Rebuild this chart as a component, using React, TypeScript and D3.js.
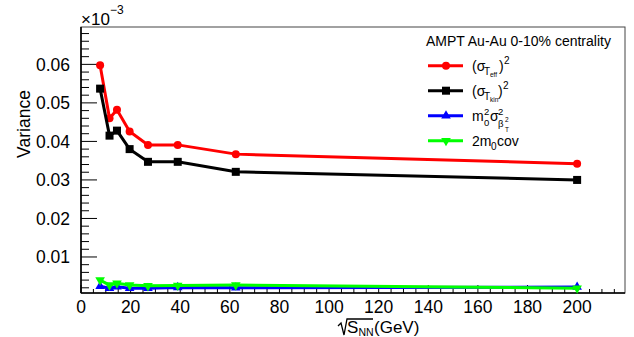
import React from "react";
import * as d3 from "d3";

// sqrt(s_NN) in GeV
const energies = [7.7, 11.5, 14.5, 19.6, 27, 39, 62.4, 200];
const sigmaTeff = [0.0598, 0.046, 0.0482, 0.0426, 0.0391, 0.0391, 0.0367, 0.0342];
const sigmaTkin = [0.0537, 0.0415, 0.0428, 0.038, 0.0347, 0.0347, 0.0321, 0.03];
const m0SigmaBeta = [0.0024, 0.0019, 0.0023, 0.0019, 0.0019, 0.0021, 0.002, 0.0022];
const twoM0Cov = [0.004, 0.0027, 0.0032, 0.0027, 0.0025, 0.0026, 0.0027, 0.0019];

const xTickLabels = ["0", "20", "40", "60", "80", "100", "120", "140", "160", "180", "200"];
const yTickLabels = ["0.01", "0.02", "0.03", "0.04", "0.05", "0.06"];

const W = 634;
const H = 337;
const frame = { left: 81, right: 625, top: 27, bottom: 293 };
const font = "'Liberation Sans', Arial, Helvetica, sans-serif";

type Series = { name: string; values: number[]; color: string; marker: string };

const series: Series[] = [
  { name: "teff", values: sigmaTeff, color: "#ff0000", marker: "circle" },
  { name: "tkin", values: sigmaTkin, color: "#000000", marker: "square" },
  { name: "beta", values: m0SigmaBeta, color: "#0000ff", marker: "up" },
  { name: "cov", values: twoM0Cov, color: "#00ff00", marker: "down" },
];

const Marker: React.FC<{ kind: string; x: number; y: number; color: string }> = ({ kind, x, y, color }) => {
  if (kind === "circle") return <circle cx={x} cy={y} r={4} fill={color} />;
  if (kind === "square") return <rect x={x - 4} y={y - 4} width={8} height={8} fill={color} />;
  const path = d3.symbol(d3.symbolTriangle, 40)() || "";
  return (
    <path
      d={path}
      fill={color}
      transform={`translate(${x},${y})${kind === "down" ? " rotate(180)" : ""}`}
    />
  );
};

const App: React.FC = () => {
  const x = d3.scaleLinear().domain([0, 219.3]).range([frame.left, frame.right]);
  const y = d3.scaleLinear().domain([0.00065, 0.0697]).range([frame.bottom, frame.top]);

  const line = d3
    .line<number>()
    .x((_, i) => x(energies[i]))
    .y((d) => y(d));

  const xMinor = d3.range(0, 219, 5);
  const yMinor = d3.range(1, 35).map((i) => i * 0.002);

  const legX = 428;
  const legRows = [65.7, 90.7, 115.7, 140.7];

  return (
    <svg
      width={W}
      height={H}
      style={{ position: "absolute", left: 0, top: 0, background: "#fff" }}
      fontFamily={font}
    >
      <rect width={W} height={H} fill="#fff" />
      {/* frame */}
      <rect
        x={frame.left}
        y={frame.top}
        width={frame.right - frame.left}
        height={frame.bottom - frame.top}
        fill="none"
        stroke="#444"
        strokeWidth={1}
      />

      {/* x ticks */}
      {xMinor.map((v) => (
        <line
          key={`xt${v}`}
          x1={x(v)}
          x2={x(v)}
          y1={frame.bottom}
          y2={frame.bottom - (v % 20 === 0 ? 8 : 4)}
          stroke="#000"
          strokeWidth={1}
        />
      ))}
      {xTickLabels.map((t) => (
        <text key={`xl${t}`} x={x(+t)} y={313} fontSize={17.5} textAnchor="middle" fill="#000">
          {t}
        </text>
      ))}

      {/* y ticks */}
      {yMinor.map((v, i) => (
        <line
          key={`yt${i}`}
          x1={frame.left}
          x2={frame.left + ((i + 1) % 5 === 0 ? 16 : 8)}
          y1={y(v)}
          y2={y(v)}
          stroke="#000"
          strokeWidth={1}
        />
      ))}
      {yTickLabels.map((t) => (
        <text key={`yl${t}`} x={70} y={y(+t) + 6.5} fontSize={17.5} textAnchor="end" fill="#000">
          {t}
        </text>
      ))}

      {/* axes lines */}
      <line x1={frame.left} x2={frame.left} y1={frame.top} y2={frame.bottom} stroke="#000" strokeWidth={1.6} />
      <line x1={frame.left} x2={frame.right} y1={frame.bottom} y2={frame.bottom} stroke="#000" strokeWidth={1.6} />

      {/* exponent */}
      <text x={81} y={25} fontSize={17} fill="#000">
        ×10
      </text>
      <text x={110} y={14} fontSize={12} fill="#000">
        −3
      </text>

      {/* axis titles */}
      <text
        transform="translate(30,124) rotate(-90)"
        fontSize={17.5}
        textAnchor="middle"
        fill="#000"
      >
        Variance
      </text>
      <g fill="#000">
        <path d="M338,326 L341,323 L344,335 L347,319 L373,319" fill="none" stroke="#000" strokeWidth={1.3} />
        <text x={347} y={333} fontSize={17}>
          S
        </text>
        <text x={358.5} y={336} fontSize={10.5}>
          NN
        </text>
        <text x={374} y={333} fontSize={17}>
          (GeV)
        </text>
      </g>

      {/* data */}
      {series.map((s) => (
        <g key={s.name}>
          <path d={line(s.values) || ""} fill="none" stroke={s.color} strokeWidth={3} />
          {s.values.map((v, i) => (
            <Marker key={i} kind={s.marker} x={x(energies[i])} y={y(v)} color={s.color} />
          ))}
        </g>
      ))}

      {/* legend */}
      <rect x={419} y={28} width={205} height={126} fill="#fff" />
      <text x={426} y={46} fontSize={14} fill="#000">
        AMPT Au-Au 0-10% centrality
      </text>
      {series.map((s, i) => (
        <g key={`leg${s.name}`}>
          <line x1={legX} x2={legX + 35} y1={legRows[i]} y2={legRows[i]} stroke={s.color} strokeWidth={3} />
          <Marker kind={s.marker} x={legX + 18} y={legRows[i]} color={s.color} />
        </g>
      ))}
      <g fill="#000" fontSize={14}>
        {/* (sigma_T_eff)^2 */}
        <text x={472} y={legRows[0] + 5}>(σ</text>
        <text x={484} y={legRows[0] + 9} fontSize={10}>T</text>
        <text x={490} y={legRows[0] + 11} fontSize={6.5}>eff</text>
        <text x={499} y={legRows[0] + 5}>)</text>
        <text x={504} y={legRows[0] - 2} fontSize={10}>2</text>
        {/* (sigma_T_kin)^2 */}
        <text x={472} y={legRows[1] + 5}>(σ</text>
        <text x={484} y={legRows[1] + 9} fontSize={10}>T</text>
        <text x={490} y={legRows[1] + 11} fontSize={6.5}>kin</text>
        <text x={498} y={legRows[1] + 5}>)</text>
        <text x={503} y={legRows[1] - 2} fontSize={10}>2</text>
        {/* m0^2 sigma^2_{beta_T^2} */}
        <text x={472} y={legRows[2] + 5}>m</text>
        <text x={484} y={legRows[2] - 1} fontSize={9.5}>2</text>
        <text x={484} y={legRows[2] + 10} fontSize={9.5}>0</text>
        <text x={490} y={legRows[2] + 5}>σ</text>
        <text x={498} y={legRows[2] - 1} fontSize={9.5}>2</text>
        <text x={498} y={legRows[2] + 11} fontSize={9.5}>β</text>
        <text x={505} y={legRows[2] + 6} fontSize={6.5}>2</text>
        <text x={505} y={legRows[2] + 16} fontSize={6.5}>T</text>
        {/* 2 m0 cov */}
        <text x={472} y={legRows[3] + 5}>2m</text>
        <text x={491} y={legRows[3] + 9} fontSize={10}>0</text>
        <text x={497} y={legRows[3] + 5}>cov</text>
      </g>
    </svg>
  );
};

export default App;
